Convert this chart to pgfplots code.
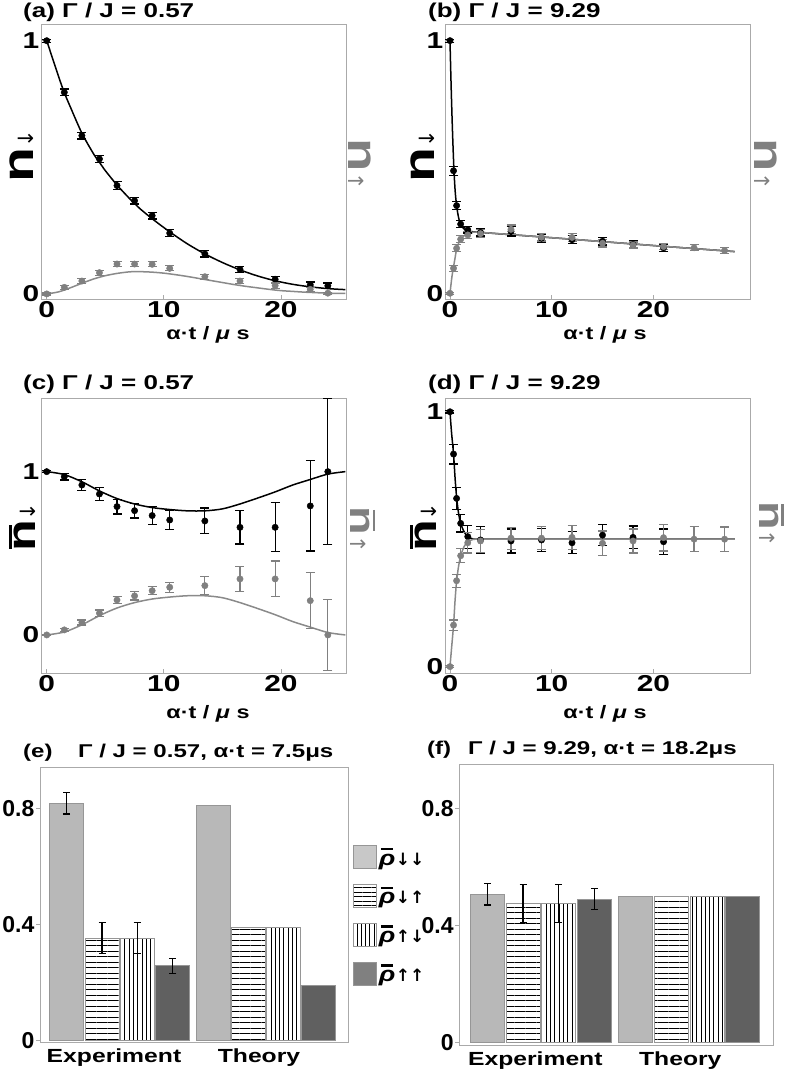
\documentclass[border=0pt]{standalone}
\usepackage{fontspec}
\setmainfont{Liberation Sans}[FakeStretch=1.3]
\newfontfamily\plain{Liberation Sans}
\newfontfamily\arr{DejaVu Sans}
\usepackage{pgfplots}
\pgfplotsset{compat=1.18}
\usetikzlibrary{patterns.meta}
\definecolor{axgray}{RGB}{170,170,170}
\definecolor{ptgray}{RGB}{128,128,128}
\definecolor{lngray}{RGB}{138,138,138}
\definecolor{barA}{RGB}{184,184,184}
\definecolor{barD}{RGB}{96,96,96}
\definecolor{barEdge}{RGB}{150,150,150}
\definecolor{legA}{RGB}{200,200,200}
\definecolor{legD}{RGB}{128,128,128}
\newcommand\tfont{\bfseries\fontsize{23}{23}\selectfont}
\newcommand\nlab[3]{\textcolor{#2}{{\bfseries\fontsize{#1}{#1}\selectfont n}{\arr\fontsize{21}{21}\selectfont #3}}}
\newcommand\nbarlab[3]{\textcolor{#2}{{\bfseries\fontsize{#1}{#1}\selectfont\makebox[0pt][l]{\hspace{0.08em}\rule[0.6em]{0.6em}{0.075em}}n}{\arr\fontsize{21}{21}\selectfont #3}}}
\newcommand\rhol[1]{\makebox[0pt][l]{\hspace{2pt}\rule[15pt]{12pt}{2.4pt}}\textit{ρ}\hspace{0.5pt}{\arr\bfseries\fontsize{17}{17}\selectfont #1}}
\pgfplotsset{
 timepanel/.style={scale only axis, width=305pt, height=275pt, clip=false, anchor=south west,
   axis line style={draw=axgray, line width=0.8pt},
   every tick/.style={draw=axgray, line width=0.8pt},
   tick align=inside, major tick length=4pt,
   xtick pos=left, ytick pos=left,
   xtick={0,10,20}, xticklabels={0,10,20},
   ytick={0,1}, yticklabels={0,1},
   tick label style={font=\tfont},
   yticklabel style={inner sep=1.5pt},
   xticklabel style={inner sep=2pt}},
 blk/.style={black, line width=1.5pt, mark=none, smooth},
 gry/.style={lngray, line width=1.5pt, mark=none, smooth},
 blkpts/.style={only marks, mark=*, mark size=3.2pt, black, mark options={fill=black, draw=black},
   /pgfplots/error bars/y dir=both, /pgfplots/error bars/y explicit,
   /pgfplots/error bars/error bar style={black, line width=1.2pt},
   /pgfplots/error bars/error mark options={rotate=90, black, mark size=4.5pt, line width=1.2pt}},
 grypts/.style={only marks, mark=*, mark size=3.2pt, ptgray, mark options={fill=ptgray, draw=ptgray},
   /pgfplots/error bars/y dir=both, /pgfplots/error bars/y explicit,
   /pgfplots/error bars/error bar style={ptgray, line width=1.2pt},
   /pgfplots/error bars/error mark options={rotate=90, ptgray, mark size=4.5pt, line width=1.2pt}},
 barpanel/.style={scale only axis, clip=false, anchor=south west,
   axis line style={draw=axgray, line width=0.8pt},
   every tick/.style={draw=axgray, line width=0.8pt},
   tick align=outside, major tick length=4pt,
   xtick pos=left, ytick pos=left,
   x tick style={draw=none},
   ytick={0,0.4,0.8}, yticklabels={0,0.4,0.8},
   xticklabels={Experiment,Theory},
   yticklabel style={font=\plain\bfseries\fontsize{23}{23}\selectfont, inner sep=1.5pt},
   xticklabel style={font=\bfseries\fontsize{19}{19}\selectfont, inner sep=3pt}},
 mybar/.style={ybar, bar shift=0pt, bar width=34, line width=0.8pt, draw=barEdge, forget plot},
 bA/.style={mybar, fill=barA},
 bB/.style={mybar, pattern={Lines[angle=0,distance=5.5pt,line width=0.8pt]}, pattern color=black},
 bC/.style={mybar, pattern={Lines[angle=90,distance=4.3pt,line width=0.8pt]}, pattern color=black},
 bD/.style={mybar, fill=barD},
 errb/.style={/pgfplots/error bars/y dir=both, /pgfplots/error bars/y explicit,
   /pgfplots/error bars/error bar style={black, line width=1.2pt},
   /pgfplots/error bars/error mark options={rotate=90, black, mark size=3.5pt, line width=1.2pt}},
}
\begin{document}
\begin{tikzpicture}
\path[use as bounding box] (0,0) rectangle (789pt,1072pt);

% ---------------- (a)
\begin{axis}[timepanel, at={(41pt,773pt)}, xmin=-0.49, xmax=25.55, ymin=-0.02, ymax=1.066]
\addplot[blk] coordinates {(0,1.0) (1,0.86) (1.5,0.795) (2,0.74) (3,0.635) (4,0.553) (4.5,0.52) (5,0.487) (6,0.43) (7,0.38) (7.5,0.357) (8,0.335) (9,0.297) (10,0.262) (10.5,0.245) (12,0.198) (13.5,0.158) (15,0.124) (16.5,0.095) (18,0.071) (19.5,0.052) (21,0.038) (22.5,0.028) (24,0.021) (25.5,0.017)};
\addplot[gry] coordinates {(0,0) (1,0.008) (2,0.024) (3,0.042) (4,0.059) (5,0.072) (6,0.081) (7,0.087) (7.5,0.088) (8,0.088) (9,0.086) (10,0.082) (11,0.076) (12,0.069) (13,0.061) (14,0.053) (15,0.045) (16,0.037) (17,0.030) (18,0.024) (19,0.018) (20,0.013) (21,0.010) (22,0.007) (23,0.005) (24,0.003) (25.5,0.002)};
\addplot[blkpts] coordinates {(0,1.000) +- (0,0.006) (1.5,0.796) +- (0,0.013) (3,0.625) +- (0,0.013) (4.5,0.533) +- (0,0.013) (6,0.428) +- (0,0.016) (7.5,0.368) +- (0,0.013) (9,0.309) +- (0,0.013) (10.5,0.240) +- (0,0.013) (13.5,0.158) +- (0,0.012) (16.5,0.097) +- (0,0.012) (19.5,0.058) +- (0,0.012) (22.5,0.036) +- (0,0.011) (24,0.032) +- (0,0.011)};
\addplot[grypts] coordinates {(0,0.000) +- (0,0.004) (1.5,0.026) +- (0,0.008) (3,0.051) +- (0,0.009) (4.5,0.084) +- (0,0.01) (6,0.118) +- (0,0.01) (7.5,0.118) +- (0,0.01) (9,0.117) +- (0,0.01) (10.5,0.101) +- (0,0.01) (13.5,0.068) +- (0,0.01) (16.5,0.051) +- (0,0.01) (19.5,0.033) +- (0,0.01) (22.5,0.018) +- (0,0.008) (24,0.003) +- (0,0.004)};
\node[rotate=90, inner sep=0] at (axis description cs:-0.062,0.52) {\nlab{44}{black}{↓}};
\node[rotate=-90, inner sep=0] at (axis description cs:1.046,0.49) {\nlab{42}{ptgray}{↑}};
\end{axis}

% ---------------- (b)
\begin{axis}[timepanel, at={(445pt,773pt)}, xmin=-0.49, xmax=29.5, ymin=-0.0226, ymax=1.066]
\addplot[blk] coordinates {(0,1) (0.1,0.84) (0.2,0.70) (0.3,0.58) (0.4,0.48) (0.5,0.41) (0.6,0.365) (0.75,0.32) (0.9,0.29) (1.05,0.272) (1.25,0.26) (1.5,0.251) (1.75,0.247) (2,0.245) (3,0.241) (10,0.22) (20,0.189) (28,0.165)};
\addplot[gry] coordinates {(0,0) (0.1,0.035) (0.2,0.068) (0.35,0.105) (0.5,0.14) (0.65,0.175) (0.85,0.198) (1.05,0.213) (1.4,0.228) (1.75,0.236) (2.2,0.24) (3,0.241) (10,0.22) (20,0.189) (28,0.165)};
\addplot[blkpts] coordinates {(0,1.0) +- (0,0.006) (0.35,0.485) +- (0,0.018) (0.65,0.347) +- (0,0.016) (1.05,0.274) +- (0,0.014) (1.75,0.251) +- (0,0.012) (3,0.241) +- (0,0.014) (6,0.245) +- (0,0.018) (9,0.218) +- (0,0.015) (12,0.212) +- (0,0.016) (15,0.206) +- (0,0.015) (18,0.193) +- (0,0.015) (21,0.180) +- (0,0.015)};
\addplot[grypts] coordinates {(0,0) +- (0,0.004) (0.35,0.099) +- (0,0.012) (0.65,0.178) +- (0,0.014) (1.05,0.214) +- (0,0.014) (1.75,0.231) +- (0,0.014) (3,0.236) +- (0,0.015) (6,0.253) +- (0,0.017) (9,0.222) +- (0,0.015) (12,0.221) +- (0,0.015) (15,0.198) +- (0,0.015) (18,0.191) +- (0,0.012) (21,0.185) +- (0,0.012) (24,0.180) +- (0,0.012) (27,0.169) +- (0,0.012)};
\node[rotate=90, inner sep=0] at (axis description cs:-0.072,0.52) {\nlab{44}{black}{↓}};
\node[rotate=-90, inner sep=0] at (axis description cs:1.052,0.49) {\nlab{42}{ptgray}{↑}};
\end{axis}

% ---------------- (c)
\begin{axis}[timepanel, at={(41pt,399pt)}, xmin=-0.49, xmax=25.55, ymin=-0.233, ymax=1.451]
\addplot[blk] coordinates {(0,1) (1.5,0.982) (3,0.938) (4.5,0.882) (6,0.835) (7.5,0.802) (9,0.78) (10.5,0.768) (12,0.76) (13.5,0.76) (15,0.772) (16.5,0.802) (18,0.838) (19.5,0.876) (21,0.918) (22.5,0.952) (24,0.985) (25.5,1.0)};
\addplot[gry] coordinates {(0,0) (1.5,0.018) (3,0.062) (4.5,0.118) (6,0.165) (7.5,0.198) (9,0.22) (10.5,0.232) (12,0.24) (13.5,0.24) (15,0.228) (16.5,0.198) (18,0.162) (19.5,0.124) (21,0.082) (22.5,0.048) (24,0.015) (25.5,0.0)};
\addplot[blkpts] coordinates {(0,1.000) +- (0,0.005) (1.5,0.969) +- (0,0.02) (3,0.918) +- (0,0.035) (4.5,0.863) +- (0,0.04) (6,0.786) +- (0,0.045) (7.5,0.761) +- (0,0.045) (9,0.731) +- (0,0.055) (10.5,0.704) +- (0,0.06) (13.5,0.698) +- (0,0.079) (16.5,0.659) +- (0,0.102) (19.5,0.659) +- (0,0.150) (22.5,0.790) +- (0,0.276) (24,1.000) +- (0,0.447)};
\addplot[grypts] coordinates {(0,0) +- (0,0.005) (1.5,0.031) +- (0,0.01) (3,0.076) +- (0,0.015) (4.5,0.133) +- (0,0.02) (6,0.214) +- (0,0.02) (7.5,0.239) +- (0,0.025) (9,0.271) +- (0,0.025) (10.5,0.292) +- (0,0.03) (13.5,0.302) +- (0,0.054) (16.5,0.343) +- (0,0.075) (19.5,0.343) +- (0,0.11) (22.5,0.21) +- (0,0.17) (24,0) +- (0,0.216)};
\node[rotate=90, inner sep=0] at (axis description cs:-0.062,0.53) {\nbarlab{40}{black}{↓}};
\node[rotate=-90, inner sep=0] at (axis description cs:1.056,0.52) {\nbarlab{36}{ptgray}{↑}};
\end{axis}

% ---------------- (d)
\begin{axis}[timepanel, at={(445pt,399pt)}, xmin=-0.49, xmax=29.5, ymin=-0.025, ymax=1.054]
\addplot[blk] coordinates {(0,1) (0.15,0.92) (0.35,0.834) (0.5,0.74) (0.65,0.665) (0.85,0.6) (1.05,0.562) (1.4,0.528) (1.75,0.51) (2.2,0.502) (3,0.5) (10,0.5) (20,0.5) (28,0.5)};
\addplot[gry] coordinates {(0,0) (0.15,0.07) (0.35,0.163) (0.5,0.26) (0.65,0.335) (0.85,0.395) (1.05,0.435) (1.4,0.472) (1.75,0.49) (2.2,0.498) (3,0.5) (10,0.5) (20,0.5) (28,0.5)};
\addplot[blkpts] coordinates {(0,1.0) +- (0,0.005) (0.35,0.834) +- (0,0.039) (0.65,0.66) +- (0,0.042) (1.05,0.562) +- (0,0.034) (1.75,0.51) +- (0,0.045) (3,0.497) +- (0,0.053) (6,0.493) +- (0,0.047) (9,0.497) +- (0,0.045) (12,0.486) +- (0,0.043) (15,0.516) +- (0,0.041) (18,0.507) +- (0,0.045) (21,0.49) +- (0,0.05)};
\addplot[grypts] coordinates {(0,0) +- (0,0.005) (0.35,0.163) +- (0,0.02) (0.65,0.337) +- (0,0.026) (1.05,0.435) +- (0,0.028) (1.75,0.486) +- (0,0.04) (3,0.493) +- (0,0.045) (6,0.504) +- (0,0.043) (9,0.504) +- (0,0.045) (12,0.507) +- (0,0.047) (15,0.484) +- (0,0.048) (18,0.493) +- (0,0.047) (21,0.506) +- (0,0.052) (24,0.5) +- (0,0.049) (27,0.5) +- (0,0.048)};
\node[rotate=90, inner sep=0] at (axis description cs:-0.072,0.53) {\nbarlab{40}{black}{↓}};
\node[rotate=-90, inner sep=0] at (axis description cs:1.072,0.54) {\nbarlab{36}{ptgray}{↑}};
\end{axis}

% ---------------- (e)
\begin{axis}[barpanel, at={(40pt,30pt)}, width=308pt, height=275pt,
  xmin=0, xmax=308, ymin=-0.006, ymax=0.942, xtick={74,219},
  legend image code/.code={\draw[#1, line width=0.8pt] (0pt,-11.5pt) rectangle (23pt,11.5pt);},
  legend cell align=left,
  legend style={draw=none, fill=none, at={(1.0155,0.716)}, anchor=north west, inner sep=0pt,
    row sep=15pt, column sep=1pt, nodes={inner sep=1pt, font=\bfseries\fontsize{21}{21}\selectfont}}]
\addplot[bA, errb] coordinates {(26.7,0.817) +- (0,0.037)};
\addplot[bB, errb] coordinates {(62,0.352) +- (0,0.053)};
\addplot[bC, errb] coordinates {(97.2,0.352) +- (0,0.053)};
\addplot[bD, errb] coordinates {(132.8,0.257) +- (0,0.026)};
\addplot[bA] coordinates {(173.3,0.810)};
\addplot[bB] coordinates {(208.8,0.388)};
\addplot[bC] coordinates {(243.8,0.388)};
\addplot[bD] coordinates {(278.8,0.188)};
\addlegendimage{fill=legA, draw=barEdge}
\addlegendentry{\rhol{↓↓}}
\addlegendimage{pattern={Lines[angle=0,distance=4.5pt,line width=0.8pt]}, pattern color=black, draw=barEdge}
\addlegendentry{\rhol{↓↑}}
\addlegendimage{pattern={Lines[angle=90,distance=4.3pt,line width=0.8pt]}, pattern color=black, draw=barEdge}
\addlegendentry{\rhol{↑↓}}
\addlegendimage{fill=legD, draw=barEdge}
\addlegendentry{\rhol{↑↑}}
\end{axis}

% ---------------- (f)
\begin{axis}[barpanel, at={(459.3pt,27pt)}, width=313.7pt, height=280.7pt,
  xmin=0, xmax=313.7, ymin=-0.009, ymax=0.951, xtick={76,221}]
\addplot[bA, errb] coordinates {(28.2,0.507) +- (0,0.037)};
\addplot[bB, errb] coordinates {(63.7,0.475) +- (0,0.065)};
\addplot[bC, errb] coordinates {(99.4,0.475) +- (0,0.065)};
\addplot[bD, errb] coordinates {(135.2,0.490) +- (0,0.036)};
\addplot[bA] coordinates {(176,0.500)};
\addplot[bB] coordinates {(211.9,0.500)};
\addplot[bC] coordinates {(247.7,0.500)};
\addplot[bD] coordinates {(283.5,0.500)};
\end{axis}

% ---------------- titles and x labels
\begin{scope}[every node/.style={inner sep=0, anchor=base west}]
\node[font=\bfseries\fontsize{20}{20}\selectfont] at (23pt,1054.5pt) {(a) Γ / J = 0.57};
\node[font=\bfseries\fontsize{20}{20}\selectfont] at (428pt,1054.5pt) {(b) Γ / J = 9.29};
\node[font=\bfseries\fontsize{20}{20}\selectfont] at (23pt,682pt) {(c) Γ / J = 0.57};
\node[font=\bfseries\fontsize{20}{20}\selectfont] at (428pt,682pt) {(d) Γ / J = 9.29};
\node[font=\bfseries\fontsize{18.5}{18.5}\selectfont] at (23pt,314pt) {(e)};
\node[font=\bfseries\fontsize{18.5}{18.5}\selectfont] at (78pt,314pt) {Γ / J = 0.57, α·t = 7.5μs};
\node[font=\bfseries\fontsize{18.5}{18.5}\selectfont] at (427pt,317pt) {(f)};
\node[font=\bfseries\fontsize{18.5}{18.5}\selectfont] at (468pt,317pt) {Γ / J = 9.29, α·t = 18.2μs};
\end{scope}
\begin{scope}[every node/.style={inner sep=0, anchor=base, font=\bfseries\fontsize{18}{18}\selectfont}]
\node at (208pt,732pt) {α·t / \textit{μ} s};
\node at (605pt,732pt) {α·t / \textit{μ} s};
\node at (208pt,353pt) {α·t / \textit{μ} s};
\node at (605pt,353pt) {α·t / \textit{μ} s};
\end{scope}
\end{tikzpicture}
\end{document}
